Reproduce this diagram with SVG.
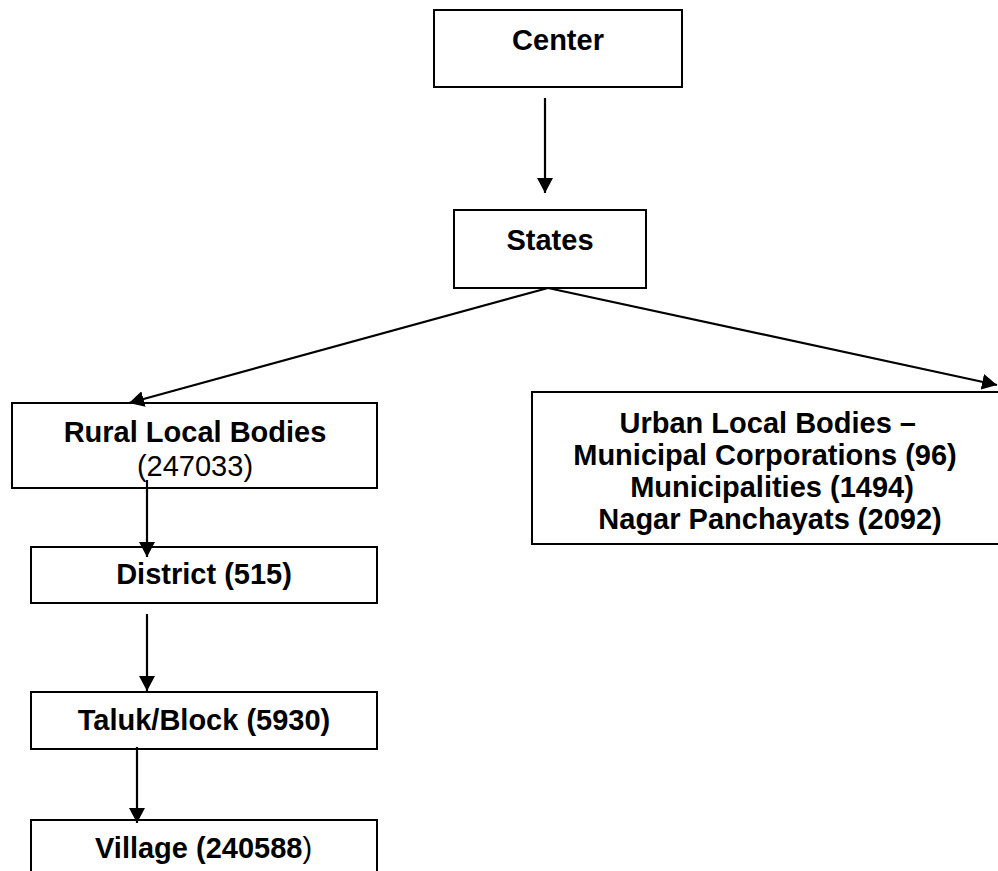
<svg xmlns="http://www.w3.org/2000/svg" width="998" height="871" viewBox="0 0 998 871">
<style>
.box{fill:#fff;stroke:#000;stroke-width:2}
.t{font-family:"Liberation Sans",Arial,sans-serif;font-size:29px;font-weight:bold;fill:#000}
.r{font-weight:normal}
.c{stroke:#000;stroke-width:2.2;fill:none}
</style>
<defs>
<marker id="ah" markerUnits="userSpaceOnUse" markerWidth="15" markerHeight="16" refX="15" refY="8" orient="auto" viewBox="0 0 15 16">
<path d="M0,0 L15,8 L0,16 z" fill="#000"/>
</marker>
</defs>
<rect width="998" height="871" fill="#fff"/>
<g id="center">
<rect class="box" x="434" y="10" width="248" height="77"/>
<text class="t" x="558" y="50" text-anchor="middle">Center</text>
</g>
<g id="states">
<rect class="box" x="454" y="210" width="192" height="78"/>
<text class="t" x="550" y="250" text-anchor="middle">States</text>
</g>
<g id="rural">
<rect class="box" x="12" y="403" width="365" height="85"/>
<text class="t" x="195" y="442" text-anchor="middle">Rural Local Bodies</text>
<text class="t r" x="195" y="476" text-anchor="middle">(247033)</text>
</g>
<g id="urban">
<rect class="box" x="532" y="392" width="480" height="152"/>
<text class="t" x="916" y="433" text-anchor="end">Urban Local Bodies –</text>
<text class="t" x="765" y="465" text-anchor="middle">Municipal Corporations (96)</text>
<text class="t" x="772" y="497" text-anchor="middle">Municipalities (1494)</text>
<text class="t" x="770" y="529" text-anchor="middle">Nagar Panchayats (2092)</text>
</g>
<g id="district">
<rect class="box" x="31" y="547" width="346" height="56"/>
<text class="t" x="204" y="584" text-anchor="middle">District (515)</text>
</g>
<g id="taluk">
<rect class="box" x="31" y="692" width="346" height="57"/>
<text class="t" x="204" y="730" text-anchor="middle">Taluk/Block (5930)</text>
</g>
<g id="village">
<rect class="box" x="31" y="820" width="346" height="60"/>
<text class="t" x="95" y="858">Village (240588<tspan class="r">)</tspan></text>
</g>
<g id="connectors">
<line class="c" x1="545" y1="98" x2="545" y2="193" marker-end="url(#ah)"/>
<line class="c" x1="548" y1="288" x2="129" y2="403" marker-end="url(#ah)"/>
<line class="c" x1="548" y1="288" x2="997" y2="385" marker-end="url(#ah)"/>
<line class="c" x1="147" y1="480" x2="147" y2="557" marker-end="url(#ah)"/>
<line class="c" x1="147" y1="614" x2="147" y2="691" marker-end="url(#ah)"/>
<line class="c" x1="137" y1="747" x2="137" y2="823" marker-end="url(#ah)"/>
</g>
</svg>
